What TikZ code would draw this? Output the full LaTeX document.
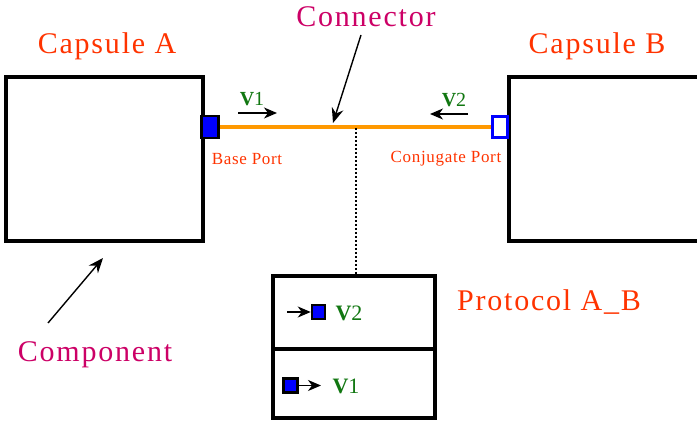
\documentclass[tikz,border=0pt]{standalone}
\usepackage{fontspec}
\setmainfont{Liberation Serif}
\newfontfamily\spacedfont[LetterSpace=6]{Liberation Serif}
\newfontfamily\smallspaced[LetterSpace=4]{Liberation Serif}
\usetikzlibrary{arrows.meta}
\definecolor{capred}{HTML}{FF3300}
\definecolor{magent}{HTML}{CC0066}
\definecolor{vgreen}{HTML}{117711}
\definecolor{wireor}{HTML}{FF9900}
\definecolor{portblue}{HTML}{0000FF}
\tikzset{
  capbox/.style={draw=black, line width=3.6pt, fill=white, inner sep=0pt},
  bigtxt/.style={font=\spacedfont\fontsize{30}{33}\selectfont, inner sep=0pt},
  porttxt/.style={font=\smallspaced\fontsize{17}{19}\selectfont, text=capred, inner sep=0pt},
  vtxt/.style={font=\fontsize{20}{22}\selectfont, text=vgreen, inner sep=0pt},
  fullport/.style={draw=black, line width=2.5pt, fill=portblue, inner sep=0pt},
  conjport/.style={draw=portblue, line width=3pt, fill=white, inner sep=0pt},
  flow/.style={line width=1.3pt, -{Stealth[length=13pt, width=11pt, inset=4pt]}},
  pointer/.style={line width=1.4pt, -{Stealth[length=15pt, width=12pt, inset=5pt]}},
}
\begin{document}
\begin{tikzpicture}[x=1pt, y=-1pt]
\useasboundingbox (0,0) rectangle (697,422);
\clip (0,0) rectangle (697,422);
% capsules
\node[capbox, minimum width=197pt, minimum height=164pt] (capA) at (104.5,159) {};
\node[capbox, minimum width=200pt, minimum height=164pt] (capB) at (609,159) {};
\node[bigtxt, text=capred] (capAlbl) at (107,46) {Capsule A};
\node[bigtxt, text=capred] (capBlbl) at (597,46) {Capsule B};
% ports
\node[fullport, minimum width=17pt, minimum height=22pt] (basePort) at (210,127) {};
\node[conjport, minimum width=15pt, minimum height=21pt] (conjPort) at (499.5,127.5) {};
\draw[wireor, line width=3.8pt] (basePort.east) -- (conjPort.west |- basePort.east);
\node[porttxt] (baseLbl) at (247,159) {Base Port};
\node[porttxt] (conjLbl) at (446,159) {Conjugate Port};
% flow labels on connector
\node[vtxt] (v1top) at (252,99) {\textbf{V}1};
\node[vtxt] (v2top) at (454,100) {\textbf{V}2};
\coordinate (a1s) at (238,113);
\coordinate (a1e) at (277,113);
\draw[flow] (a1s) -- (a1e);
\coordinate (a2s) at (468,114);
\coordinate (a2e) at (430,114);
\draw[flow] (a2s) -- (a2e);
% connector label
\node[bigtxt, text=magent] (connLbl) at (366,17) {Connector};
\coordinate (connTip) at (333,123);
\draw[pointer] (361,35) -- (connTip);
% component label
\node[bigtxt, text=magent] (compLbl) at (95,355) {Component};
\coordinate (compTail) at (48,323);
\coordinate (compTip) at (103,258);
\draw[pointer] (compTail) -- (compTip);
% protocol
\node[capbox, minimum width=162pt, minimum height=73pt] (protoTop) at (354,312.5) {};
\node[capbox, minimum width=162pt, minimum height=69pt] (protoBot) at (354,383.5) {};
\node[bigtxt, text=capred] (protoLbl) at (549,302) {Protocol A\_B};
\coordinate (tap) at (356,128);
\draw[line width=2pt, dotted] (tap) -- (tap |- protoTop.north);
% protocol signals
\node[fullport, minimum width=13pt, minimum height=14pt] (sigIn) at (318.5,312) {};
\coordinate (sigInTail) at (287,312);
\draw[flow] (sigInTail) -- (sigIn.west);
\node[vtxt, font=\fontsize{22}{24}\selectfont] (v2lbl) at (349,313) {\textbf{V}2};
\node[fullport, minimum width=14pt, minimum height=14pt] (sigOut) at (290.5,385.5) {};
\coordinate (sigOutTip) at (321,385.5);
\draw[flow] (sigOut.east) -- (sigOutTip);
\node[vtxt, font=\fontsize{22}{24}\selectfont] (v1lbl) at (346,386) {\textbf{V}1};
\end{tikzpicture}
\end{document}
